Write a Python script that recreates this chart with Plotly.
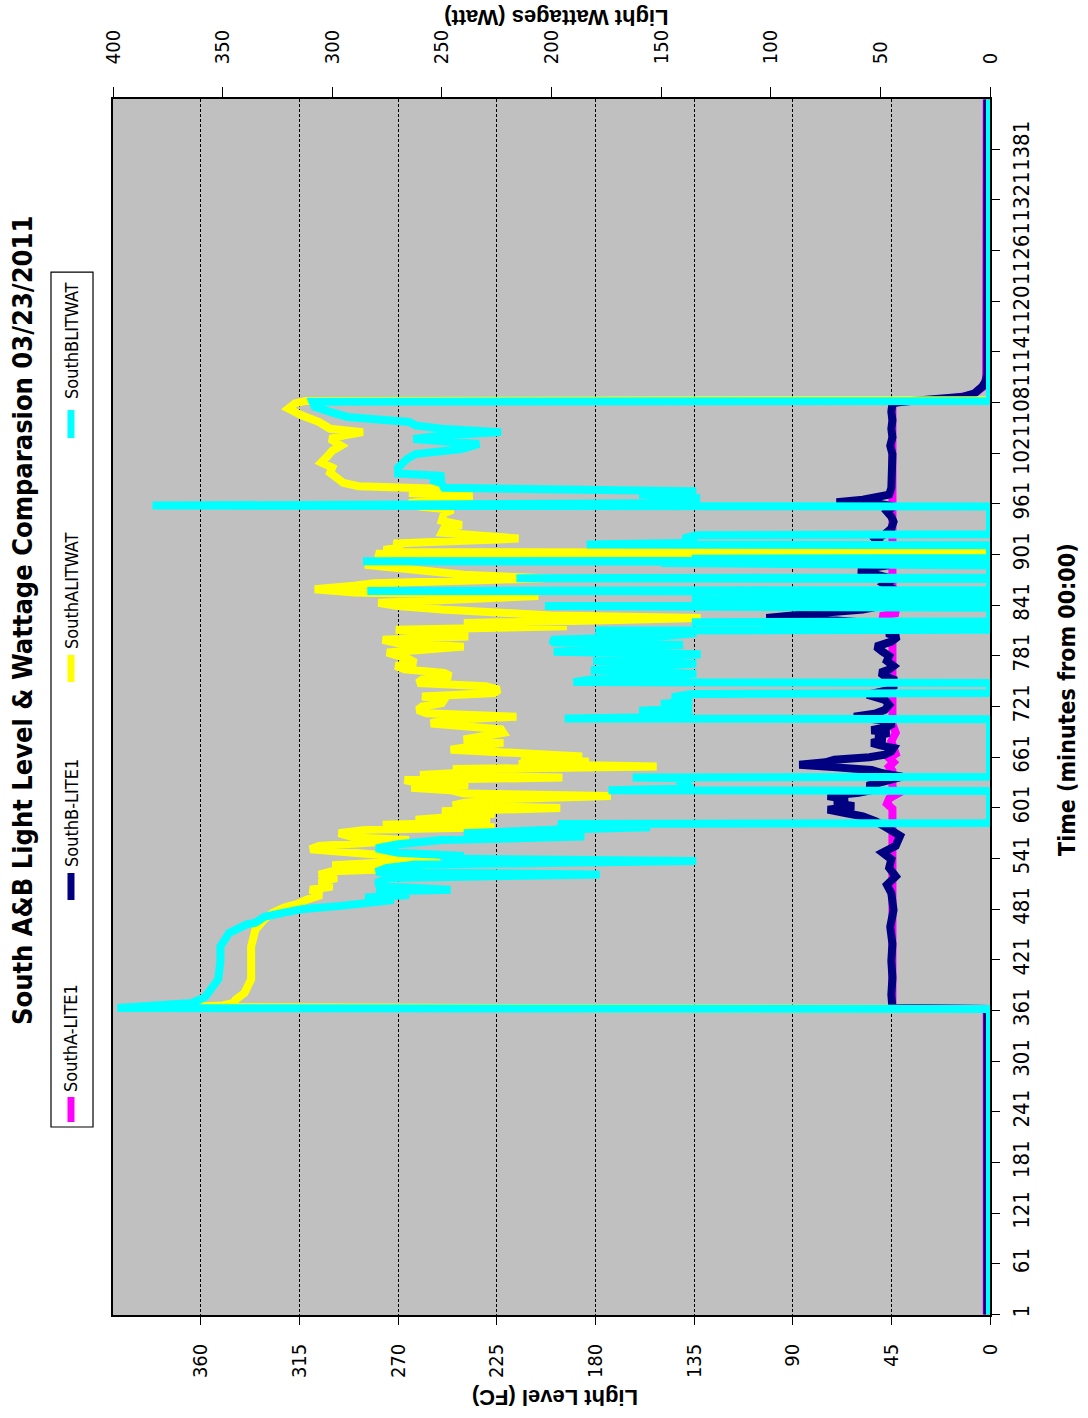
import plotly.graph_objects as go

# ---- axis tick values ----
fc_ticks = [0, 45, 90, 135, 180, 225, 270, 315, 360]
watt_ticks = [0, 50, 100, 150, 200, 250, 300, 350, 400]
minute_ticks = [1, 61, 121, 181, 241, 301, 361, 421, 481, 541, 601, 661, 721,
                781, 841, 901, 961, 1021, 1081, 1141, 1201, 1261, 1321, 1381]

# ---- series: (minute, value) ----
southa_lite1 = [
    (1, 1.5), (363, 1.5), (364, 44.5), (600, 44.5), (606, 47), (612, 46), (618, 42),
    (625, 44.5), (645, 44.5), (650, 46), (655, 44), (660, 46), (665, 43), (680, 45),
    (690, 43), (700, 44.5), (820, 44.5), (824, 48), (828, 50), (832, 42), (836, 44.5),
    (1082, 44.5), (1085, 20), (1090, 8), (1100, 3), (1110, 1.8), (1440, 1.5),
]

southb_lite1 = [
    (1, 1.2), (363, 1.2), (364, 44.5), (380, 45), (400, 44.5), (420, 45), (440, 44.5),
    (460, 45.5), (480, 44), (500, 45), (510, 47), (520, 43), (530, 46), (540, 45),
    (548, 49), (556, 43), (568, 41), (574, 46), (579, 48), (585, 52), (591, 58),
    (595, 66), (599, 74), (603, 62), (607, 71), (611, 65), (615, 74), (619, 60),
    (623, 52), (627, 56), (630, 52), (634, 47), (638, 40), (642, 49), (646, 54),
    (649, 70), (652, 87), (655, 75), (658, 71), (661, 55), (664, 48), (668, 45),
    (672, 44), (675, 50), (678, 54), (682, 48), (686, 52), (690, 46), (693, 54),
    (697, 47), (701, 44), (705, 50), (709, 62), (713, 52), (717, 48), (723, 46),
    (729, 48), (735, 56), (740, 47), (745, 44), (753, 44), (757, 48), (761, 50),
    (765, 46), (769, 44), (775, 47), (781, 46), (786, 49), (792, 52), (798, 45),
    (804, 42), (808, 47), (812, 44), (816, 48), (820, 55), (823, 70), (826, 102),
    (829, 90), (832, 75), (836, 58), (840, 50), (846, 47), (852, 45), (860, 44),
    (866, 48), (872, 44), (878, 52), (883, 60), (888, 47), (894, 45), (899, 48),
    (905, 46), (912, 49), (919, 52), (925, 48), (932, 45), (940, 44), (946, 45),
    (952, 47), (958, 44), (961, 50), (963, 70), (966, 58), (968, 53), (972, 46),
    (980, 45), (990, 45), (1000, 44.5), (1010, 45), (1020, 44.5), (1030, 45.5),
    (1040, 44.5), (1050, 45), (1060, 44.5), (1070, 45), (1080, 44.5), (1082, 40),
    (1085, 22), (1088, 12), (1092, 7), (1096, 5), (1100, 3.5), (1106, 2),
    (1115, 1.3), (1440, 1.2),
]

southa_litwat = [
    (1, 0), (363, 0), (365, 368), (367, 350), (370, 345), (374, 344), (382, 340),
    (398, 337), (420, 337), (437, 337), (457, 335), (469, 331), (477, 327),
    (483, 322), (487, 316), (492, 312), (498, 305), (504, 310), (508, 300),
    (512, 306), (518, 298), (522, 306), (526, 300), (530, 255), (533, 300),
    (536, 275), (540, 251), (544, 272), (548, 288), (552, 310), (556, 306),
    (560, 280), (563, 265), (566, 290), (571, 297), (575, 285), (578, 226),
    (581, 277), (584, 228), (587, 262), (590, 244), (594, 226), (597, 250),
    (601, 196), (604, 245), (607, 240), (611, 226), (615, 173), (618, 240),
    (622, 246), (625, 264), (628, 238), (631, 262), (634, 267), (637, 195),
    (640, 260), (644, 230), (647, 245), (650, 152), (653, 215), (656, 183),
    (659, 214), (662, 186), (666, 212), (670, 246), (674, 236), (678, 222),
    (682, 240), (686, 230), (690, 222), (694, 223), (698, 243), (701, 255),
    (705, 249), (709, 216), (713, 257), (717, 261), (721, 259), (725, 250),
    (729, 249), (733, 259), (737, 226), (741, 224), (745, 230), (749, 261),
    (753, 259), (757, 246), (761, 249), (765, 267), (769, 271), (773, 262),
    (777, 265), (781, 270), (785, 275), (788, 260), (792, 240), (796, 270),
    (800, 277), (804, 238), (808, 255), (812, 271), (816, 193), (820, 240),
    (823, 180), (826, 132), (829, 200), (832, 232), (836, 250), (840, 270),
    (844, 279), (848, 240), (852, 206), (856, 290), (860, 308), (864, 290),
    (867, 281), (870, 240), (873, 203), (877, 240), (881, 253), (885, 270),
    (889, 285), (895, 275), (900, 280), (902, 280), (903, 0), (904, 275),
    (907, 275), (910, 268), (914, 272), (918, 240), (920, 215), (923, 230),
    (927, 250), (932, 249), (936, 241), (941, 250), (946, 249), (950, 249),
    (954, 245), (958, 260), (962, 265), (966, 250), (970, 236), (974, 265),
    (978, 240), (982, 288), (986, 295), (990, 297), (998, 301), (1004, 300),
    (1010, 305), (1018, 302), (1024, 300), (1030, 296), (1038, 301), (1042, 295),
    (1046, 286), (1050, 301), (1058, 306), (1066, 314), (1070, 318), (1074, 320),
    (1080, 317), (1083, 312), (1084, 0), (1440, 0),
]

southb_litwat = [
    (1, 0), (363, 0), (364, 398), (367, 375), (370, 364), (377, 358), (384, 356),
    (398, 352), (420, 351), (437, 351), (453, 347), (457, 344), (463, 339),
    (465, 335), (472, 331), (477, 322), (481, 314), (485, 296), (489, 283),
    (492, 272), (495, 285), (498, 265), (502, 280), (504, 246), (508, 275),
    (512, 280), (518, 275), (522, 178), (525, 280), (530, 275), (534, 262),
    (538, 134), (541, 250), (544, 240), (548, 270), (553, 280), (558, 270),
    (563, 250), (567, 185), (571, 240), (575, 200), (578, 155), (581, 196),
    (582, 197), (583, 0), (621, 0), (622, 174), (624, 136), (630, 140),
    (636, 136), (637, 163), (638, 0), (706, 0), (707, 194), (709, 136),
    (713, 140), (716, 160), (719, 136), (724, 150), (728, 136), (732, 145),
    (736, 136), (737, 0), (749, 0), (750, 190), (753, 182), (756, 150),
    (760, 134), (764, 182), (768, 160), (772, 134), (775, 181), (779, 154),
    (783, 132), (786, 199), (790, 160), (794, 140), (797, 199), (800, 200),
    (804, 150), (808, 134), (811, 180), (812, 0), (820, 0), (821, 136), (822, 0),
    (838, 0), (840, 203), (841, 0), (843, 136), (845, 0), (847, 136), (849, 0),
    (851, 136), (853, 0), (855, 136), (857, 0), (858, 284), (859, 0), (872, 0),
    (873, 216), (874, 0), (888, 0), (889, 136), (890, 0), (891, 150), (892, 0),
    (893, 286), (894, 0), (896, 136), (897, 0), (912, 0), (913, 184), (915, 134),
    (920, 140), (924, 134), (925, 0), (958, 0), (959, 382), (960, 171),
    (962, 134), (968, 134), (972, 160), (976, 134), (980, 249), (985, 250),
    (990, 255), (994, 249), (997, 270), (1004, 270), (1010, 268), (1014, 266),
    (1020, 262), (1026, 241), (1032, 233), (1038, 263), (1042, 250), (1046, 223),
    (1050, 250), (1054, 262), (1058, 265), (1064, 293), (1070, 301), (1076, 308),
    (1082, 309), (1083, 0), (1440, 0),
]

series = [
    ("SouthA-LITE1", southa_lite1, "#FF00FF", "x"),
    ("SouthB-LITE1", southb_lite1, "#000080", "x"),
    ("SouthALITWAT", southa_litwat, "#FFFF00", "x2"),
    ("SouthBLITWAT", southb_litwat, "#00FFFF", "x2"),
]

NARROW = "Liberation Sans Narrow, Arial Narrow, DejaVu Sans Condensed, Liberation Sans, Arial, sans-serif"
REGULAR = "Liberation Sans, Arial, sans-serif"

fig = go.Figure()
for name, pts, color, xa in series:
    minutes = [p[0] for p in pts]
    values = [p[1] for p in pts]
    fig.add_trace(go.Scatter(
        x=values, y=minutes, mode="lines", name=name, xaxis=xa, yaxis="y",
        line=dict(color=color, width=8),
    ))

value_font = dict(family=NARROW, size=20, color="black")
time_font = dict(family=NARROW, size=22, color="black")

fig.update_layout(
    width=1088, height=1418,
    margin=dict(l=113, r=98, t=99, b=103),
    paper_bgcolor="white",
    plot_bgcolor="#C0C0C0",
    showlegend=False,
    xaxis=dict(
        range=[400, 0], tickmode="array", tickvals=fc_ticks,
        ticktext=[str(v) for v in fc_ticks], tickangle=-90,
        ticks="outside", ticklen=8, tickcolor="black", tickwidth=1,
        showgrid=True, gridcolor="black", gridwidth=1, griddash="3px,2px",
        zeroline=False, showline=True, linecolor="black", linewidth=1.5,
        tickfont=value_font, ticklabelstandoff=11,
    ),
    xaxis2=dict(
        range=[400, 0], overlaying="x", side="top", tickmode="array",
        tickvals=watt_ticks, ticktext=[str(v) for v in watt_ticks], tickangle=-90,
        ticks="outside", ticklen=10, tickcolor="black", tickwidth=1,
        showgrid=False, zeroline=False, showline=True, linecolor="black",
        linewidth=1.5, tickfont=value_font, ticklabelstandoff=19,
    ),
    yaxis=dict(
        range=[0.5, 1440.5], side="right", tickmode="array", tickvals=minute_ticks,
        ticktext=[str(v) for v in minute_ticks], tickangle=-90,
        ticks="outside", ticklen=8, tickcolor="black", tickwidth=1,
        showgrid=False, zeroline=False, showline=True, mirror=True,
        linecolor="black", linewidth=1.5, tickfont=time_font, ticklabelstandoff=3,
    ),
)

annotations = [
    dict(text="<b>South A&amp;B Light Level &amp; Wattage Comparasion 03/23/2011</b>",
         x=-0.1038, y=0.5715, textangle=-90,
         font=dict(family=NARROW, size=27, color="black")),
    dict(text="<b>Light Level (FC)</b>", x=0.504, y=-0.0674, textangle=180,
         font=dict(family=REGULAR, size=22, color="black")),
    dict(text="<b>Light Wattages (Watt)</b>", x=0.506, y=1.0666, textangle=180,
         font=dict(family=REGULAR, size=22, color="black")),
    dict(text="<b>Time (minutes from 00:00)</b>", x=1.0878, y=0.5058, textangle=-90,
         font=dict(family=NARROW, size=23, color="black")),
]

# legend drawn as rotated entries inside a box
legend_x = -0.0479
legend_rows = [
    ("SouthA-LITE1", "#FF00FF", 0.1587, 0.1793, 0.2278),
    ("SouthB-LITE1", "#000080", 0.3413, 0.3635, 0.4128),
    ("SouthALITWAT", "#FFFF00", 0.5206, 0.5428, 0.5962),
    ("SouthBLITWAT", "#00FFFF", 0.7212, 0.7442, 0.8018),
]
shapes = [dict(type="rect", xref="paper", yref="paper", x0=-0.0707, x1=-0.0228,
               y0=0.1546, y1=0.8577, line=dict(color="black", width=1.2),
               fillcolor="white", layer="below")]
for name, color, s0, s1, ty in legend_rows:
    shapes.append(dict(type="line", xref="paper", yref="paper", x0=legend_x, x1=legend_x,
                       y0=s0, y1=s1, line=dict(color=color, width=7)))
    annotations.append(dict(text=name, x=legend_x, y=ty, textangle=-90,
                            font=dict(family=NARROW, size=18, color="black")))

for a in annotations:
    a.update(xref="paper", yref="paper", showarrow=False, xanchor="center", yanchor="middle")

fig.update_layout(annotations=annotations, shapes=shapes)
fig.write_html("out.html")
